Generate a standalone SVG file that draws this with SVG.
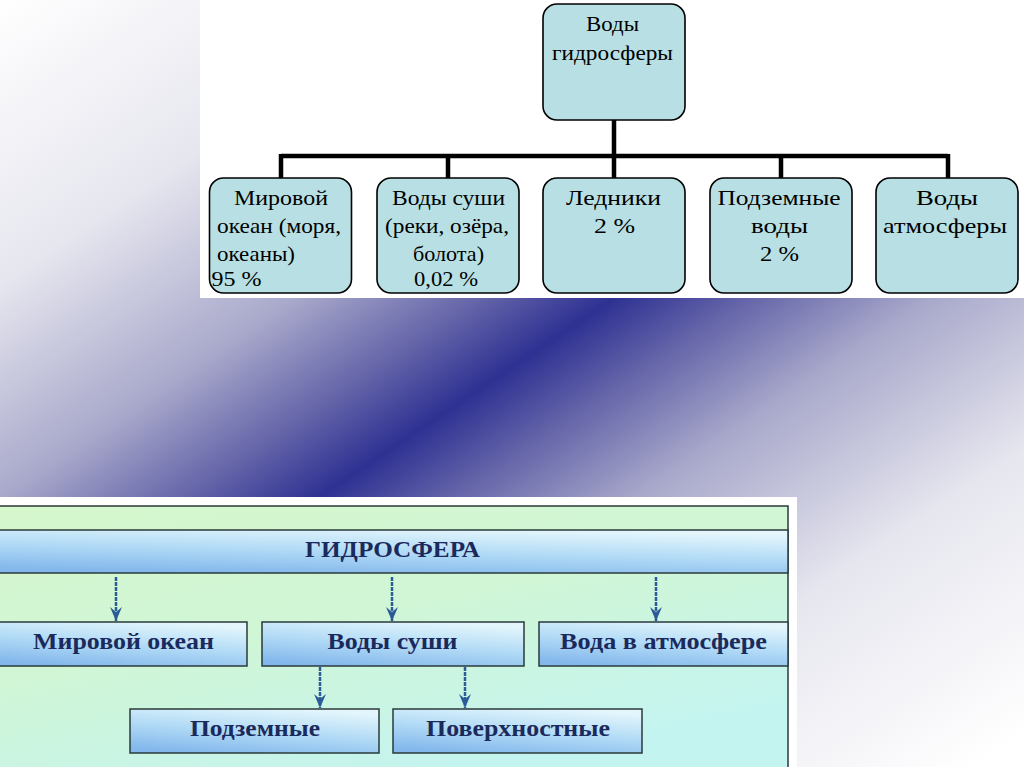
<svg xmlns="http://www.w3.org/2000/svg" width="1024" height="767" viewBox="0 0 1024 767">
<defs>
<linearGradient id="bg" gradientUnits="userSpaceOnUse" x1="0" y1="0" x2="661" y2="979">
<stop offset="0" stop-color="#ffffff"/>
<stop offset="0.2" stop-color="#e6e6ef"/>
<stop offset="0.35" stop-color="#a8a8cb"/>
<stop offset="0.44" stop-color="#6262a8"/>
<stop offset="0.5" stop-color="#2e3192"/>
<stop offset="0.56" stop-color="#6262a8"/>
<stop offset="0.65" stop-color="#a8a8cb"/>
<stop offset="0.8" stop-color="#e6e6ef"/>
<stop offset="1" stop-color="#ffffff"/>
</linearGradient>
<linearGradient id="green" x1="0" y1="0" x2="0.6" y2="1">
<stop offset="0" stop-color="#d6f7cc"/>
<stop offset="0.5" stop-color="#d0f6d6"/>
<stop offset="1" stop-color="#c4f4f0"/>
</linearGradient>
<linearGradient id="blue" x1="0.7" y1="0" x2="0.3" y2="1">
<stop offset="0" stop-color="#e4f6fc"/>
<stop offset="0.5" stop-color="#b2dbf6"/>
<stop offset="1" stop-color="#84b8ec"/>
</linearGradient>
<marker id="ah" markerUnits="userSpaceOnUse" markerWidth="14" markerHeight="12" refX="14" refY="6" orient="auto" viewBox="0 0 14 12">
<path d="M0,0 L14,6 L0,12 L5,6 z" fill="#2b5c98"/>
</marker>
</defs>
<style>
.tn{fill:#b8e0e4;stroke:#000;stroke-width:1.6}
.tt{font-family:"Liberation Serif","Times New Roman",serif;font-size:21px;fill:#000}
.bn{fill:url(#blue);stroke:#2a3a3a;stroke-width:1.5}
.bt{font-family:"Liberation Serif","Times New Roman",serif;font-size:23px;font-weight:bold;fill:#1b2a5c}
.tc{fill:none;stroke:#000;stroke-width:4.5}
.ba{fill:none;stroke:#2b5c98;stroke-width:2.5;stroke-dasharray:4 1;marker-end:url(#ah)}
</style>
<rect x="0" y="0" width="1024" height="767" fill="url(#bg)"/>
<rect x="200" y="0" width="824" height="298" fill="#ffffff"/>
<g id="top-connectors">
<path class="tc" d="M614,119 V156 M281,156 H948 M281,154 V179 M448,154 V179 M614,154 V179 M781,154 V179 M948,154 V179"/>
</g>
<g id="t-root">
<rect class="tn" x="543" y="4" width="142" height="116" rx="14"/>
<text class="tt" x="586" y="31" textLength="53" lengthAdjust="spacingAndGlyphs">Воды</text>
<text class="tt" x="552" y="60" textLength="121" lengthAdjust="spacingAndGlyphs">гидросферы</text>
</g>
<g id="t-ocean">
<rect class="tn" x="209.5" y="178" width="142" height="115" rx="14"/>
<text class="tt" x="234" y="205" textLength="94" lengthAdjust="spacingAndGlyphs">Мировой</text>
<text class="tt" x="217" y="233" textLength="124" lengthAdjust="spacingAndGlyphs">океан (моря,</text>
<text class="tt" x="217" y="261" textLength="78" lengthAdjust="spacingAndGlyphs">океаны)</text>
<text class="tt" x="211.5" y="286" textLength="50" lengthAdjust="spacingAndGlyphs">95 %</text>
</g>
<g id="t-land">
<rect class="tn" x="377" y="178" width="142" height="115" rx="14"/>
<text class="tt" x="392" y="205" textLength="113" lengthAdjust="spacingAndGlyphs">Воды суши</text>
<text class="tt" x="385" y="233" textLength="124" lengthAdjust="spacingAndGlyphs">(реки, озёра,</text>
<text class="tt" x="413" y="261" textLength="71" lengthAdjust="spacingAndGlyphs">болота)</text>
<text class="tt" x="414" y="286" textLength="64" lengthAdjust="spacingAndGlyphs">0,02 %</text>
</g>
<g id="t-glaciers">
<rect class="tn" x="543" y="178" width="142" height="115" rx="14"/>
<text class="tt" x="566" y="205" textLength="95" lengthAdjust="spacingAndGlyphs">Ледники</text>
<text class="tt" x="594" y="233" textLength="41" lengthAdjust="spacingAndGlyphs">2 %</text>
</g>
<g id="t-ground">
<rect class="tn" x="710" y="178" width="142" height="115" rx="14"/>
<text class="tt" x="717.5" y="205" textLength="123" lengthAdjust="spacingAndGlyphs">Подземные</text>
<text class="tt" x="751" y="233" textLength="57" lengthAdjust="spacingAndGlyphs">воды</text>
<text class="tt" x="760" y="261" textLength="39" lengthAdjust="spacingAndGlyphs">2 %</text>
</g>
<g id="t-atmos">
<rect class="tn" x="876" y="178" width="142" height="115" rx="14"/>
<text class="tt" x="916" y="205" textLength="62" lengthAdjust="spacingAndGlyphs">Воды</text>
<text class="tt" x="883" y="233" textLength="124" lengthAdjust="spacingAndGlyphs">атмосферы</text>
</g>
<rect x="0" y="497" width="797" height="270" fill="#ffffff"/>
<rect x="-2" y="506" width="790" height="264" fill="url(#green)" stroke="#2a3a3a" stroke-width="1.5"/>
<g id="b-root">
<rect class="bn" x="-2" y="530" width="790" height="43"/>
<text class="bt" x="305" y="557" font-size="21" textLength="175" lengthAdjust="spacingAndGlyphs">ГИДРОСФЕРА</text>
</g>
<g id="b-ocean">
<rect class="bn" x="-2" y="622" width="249" height="44"/>
<text class="bt" x="33" y="649" textLength="181" lengthAdjust="spacingAndGlyphs">Мировой океан</text>
</g>
<g id="b-land">
<rect class="bn" x="262" y="622" width="262" height="44"/>
<text class="bt" x="327.5" y="649" textLength="130" lengthAdjust="spacingAndGlyphs">Воды суши</text>
</g>
<g id="b-atmos">
<rect class="bn" x="539" y="622" width="249" height="44"/>
<text class="bt" x="560" y="649" textLength="207" lengthAdjust="spacingAndGlyphs">Вода в атмосфере</text>
</g>
<g id="b-ground">
<rect class="bn" x="130" y="709" width="249" height="44"/>
<text class="bt" x="190" y="736" textLength="130" lengthAdjust="spacingAndGlyphs">Подземные</text>
</g>
<g id="b-surface">
<rect class="bn" x="393" y="709" width="249" height="44"/>
<text class="bt" x="426" y="736" textLength="184" lengthAdjust="spacingAndGlyphs">Поверхностные</text>
</g>
<g id="bottom-connectors">
<line class="ba" x1="116" y1="577" x2="116" y2="621"/>
<line class="ba" x1="392" y1="577" x2="392" y2="621"/>
<line class="ba" x1="656" y1="577" x2="656" y2="621"/>
<line class="ba" x1="320" y1="667" x2="320" y2="708"/>
<line class="ba" x1="465" y1="667" x2="465" y2="708"/>
</g>
</svg>
